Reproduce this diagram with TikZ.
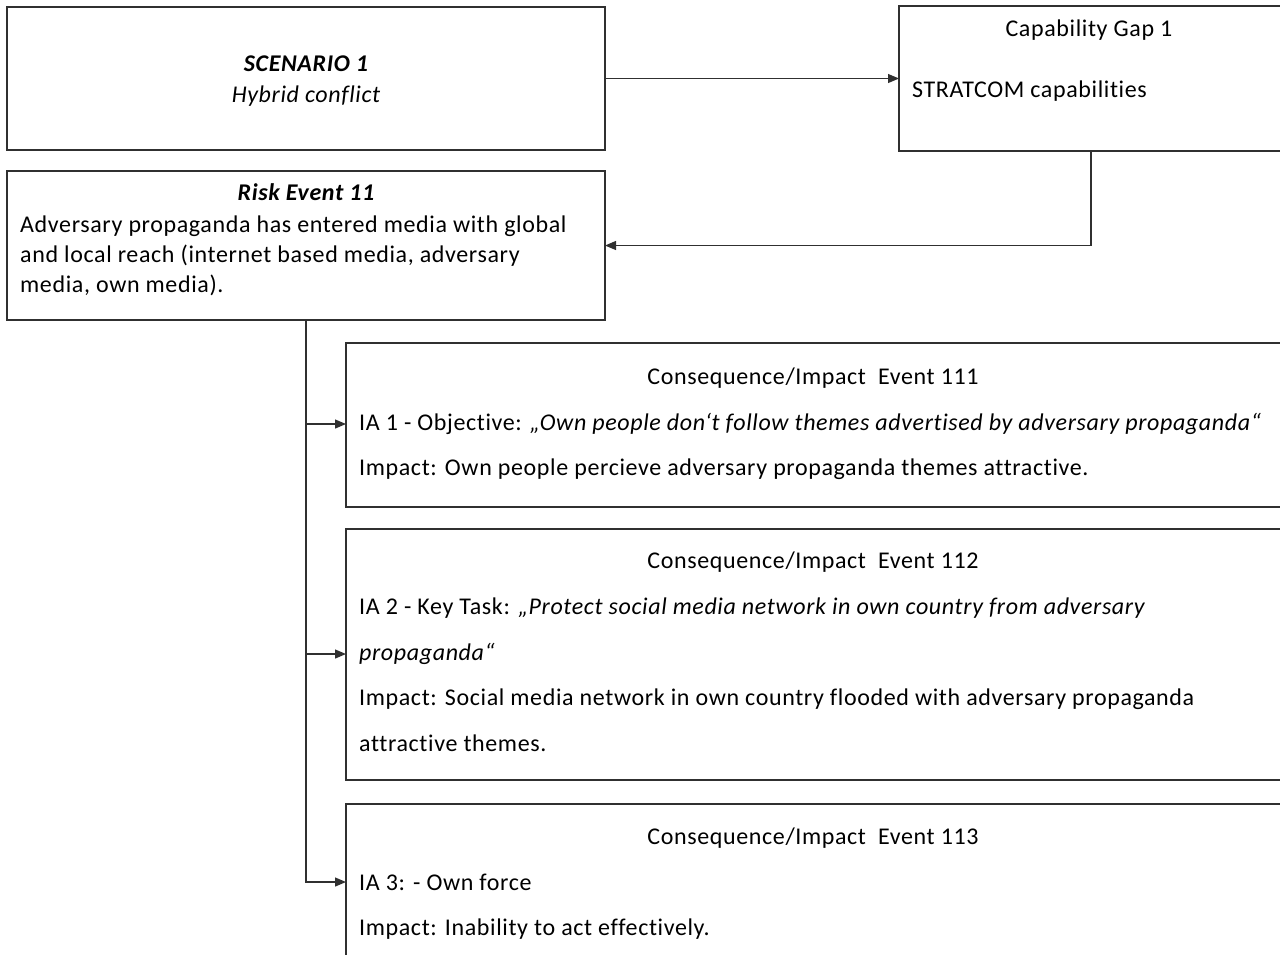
\documentclass[tikz,border=0pt]{standalone}
\usepackage{fontspec}
\setmainfont{Carlito}[LetterSpace=2.6,Ligatures=NoCommon]
\usetikzlibrary{arrows.meta}
\definecolor{linec}{HTML}{303030}
\newcommand\fs{\fontsize{24}{28}\selectfont}
\begin{document}
\begin{tikzpicture}[x=1pt,y=-1pt,
  box/.style={draw=linec, line width=1.2pt, inner sep=0pt, outer sep=0pt, rectangle, anchor=north west},
  conn/.style={draw=linec, line width=1.2pt, -{Triangle[length=11pt,width=9pt]}},
  line/.style={draw=linec, line width=1.2pt},
  txt/.style={inner sep=0pt, anchor=base west, font=\fs},
  ctxt/.style={txt, anchor=base},
  btxt/.style={ctxt, font=\fs\bfseries\itshape},
]
\path[use as bounding box] (0,0) rectangle (1280,954);
\clip (0,0) rectangle (1280,954);

% boxes
\node[box, minimum width=598pt, minimum height=143pt] (scen) at (7,7) {};
\node[box, minimum width=384pt, minimum height=145pt] (cap) at (899,6) {};
\node[box, minimum width=598pt, minimum height=149pt] (risk) at (7,171) {};
\node[box, minimum width=940pt, minimum height=164pt] (c1) at (346,343) {};
\node[box, minimum width=940pt, minimum height=251pt] (c2) at (346,529) {};
\node[box, minimum width=940pt, minimum height=200pt] (c3) at (346,804) {};

% texts
\node[btxt] (scent) at (306,71) {SCENARIO 1};
\node[ctxt, font=\fs\itshape] (scens) at (306,102) {Hybrid conflict};

\node[ctxt] (capt) at (1089,36) {Capability Gap 1};
\node[txt] (capl) at (912,97) {STRATCOM capabilities};

\node[btxt] (riskt) at (306,200) {Risk Event 11};
\node[txt] (risk1) at (20,232) {Adversary propaganda has entered media with global};
\node[txt] (risk2) at (20,262) {and local reach (internet based media, adversary};
\node[txt] (risk3) at (20,292) {media, own media).};

\node[ctxt] (c1t) at (813,384) {Consequence/Impact~ Event 111};
\node[txt] (c1a) at (359,430) {IA 1 - Objective: \textit{„Own people don‘t follow themes advertised by adversary propaganda“}};
\node[txt] (c1b) at (359,475) {Impact: Own people percieve adversary propaganda themes attractive.};

\node[ctxt] (c2t) at (813,568) {Consequence/Impact~ Event 112};
\node[txt] (c2a) at (359,614) {IA 2 - Key Task: \textit{„Protect social media network in own country from adversary}};
\node[txt] (c2b) at (359,660) {\textit{propaganda“}};
\node[txt] (c2c) at (359,705) {Impact: Social media network in own country flooded with adversary propaganda};
\node[txt] (c2d) at (359,751) {attractive themes.};

\node[ctxt] (c3t) at (813,844) {Consequence/Impact~ Event 113};
\node[txt] (c3a) at (359,890) {IA 3: - Own force};
\node[txt] (c3b) at (359,935) {Impact: Inability to act effectively.};

% connectors
\draw[conn] (scen.east) -- (cap.west |- scen.east);
\draw[conn] (cap.south) |- (risk.east);
\coordinate (in1) at (346,424);
\coordinate (in2) at (346,654);
\coordinate (in3) at (346,882);
\draw[conn] (risk.south) |- (in3);
\draw[conn] (risk.south |- in1) -- (in1);
\draw[conn] (risk.south |- in2) -- (in2);
\end{tikzpicture}
\end{document}
